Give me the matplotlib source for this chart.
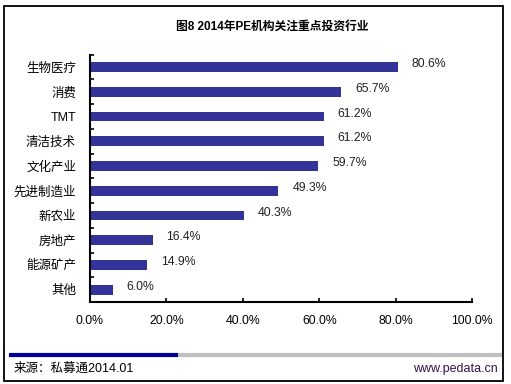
import matplotlib
matplotlib.use("Agg")
from matplotlib import pyplot as plt
from matplotlib.patches import Rectangle
from matplotlib.lines import Line2D

plt.rcParams['font.family'] = ['Liberation Sans', 'Noto Sans CJK SC', 'DejaVu Sans']

industries = ['生物医疗', '消费', 'TMT', '清洁技术', '文化产业',
              '先进制造业', '新农业', '房地产', '能源矿产', '其他']
shares = [80.6, 65.7, 61.2, 61.2, 59.7, 49.3, 40.3, 16.4, 14.9, 6.0]
xticks = [0, 20, 40, 60, 80, 100]

fig = plt.figure(figsize=(5.11, 3.84), dpi=100)
ax = fig.add_axes([0.176, 0.2135, 0.748, 0.644])

pos = list(range(len(industries)))
ax.barh(pos, shares, height=0.4, color='#333399')
for p, v in zip(pos, shares):
    ax.annotate('%.1f%%' % v, (v, p), xytext=(10, 2), textcoords='offset points',
                va='center', ha='left', fontsize=8.8, color='#222222')

ax.set_xlim(0, 100)
ax.set_ylim(len(industries) - 0.5, -0.5)
ax.set_xticks(xticks)
ax.set_xticklabels(['%.1f%%' % t for t in xticks], fontsize=8.8)
ax.set_yticks(pos)
ax.set_yticklabels(industries, fontsize=9)
ax.set_yticks([p - 0.5 for p in pos] + [len(pos) - 0.5], minor=True)
ax.tick_params(axis='y', which='major', length=0, pad=10)
ax.tick_params(axis='y', which='minor', direction='in', length=3, width=1.2)
ax.tick_params(axis='x', direction='in', length=3, width=1.2, pad=9)
for s in ['top', 'right']:
    ax.spines[s].set_visible(False)
for s in ['left', 'bottom']:
    ax.spines[s].set_linewidth(1.5)

fig.text(0.532, 0.93, '图8 2014年PE机构关注重点投资行业', ha='center', va='center',
         fontsize=8.5, fontweight='bold')

# outer frame
fig.add_artist(Rectangle((4 / 511, 1 - 381 / 384), 499 / 511, 375 / 384,
                         transform=fig.transFigure, fill=False, lw=1.3, ec='black'))
# footer bars
fig.add_artist(Line2D([9 / 511, 178 / 511], [1 - 355 / 384] * 2, transform=fig.transFigure,
                      color='#000099', lw=3, solid_capstyle='butt'))
fig.add_artist(Line2D([178 / 511, 502 / 511], [1 - 355 / 384] * 2, transform=fig.transFigure,
                      color='#bfbfbf', lw=3, solid_capstyle='butt'))
fig.text(14 / 511, 1 - 369 / 384, '来源：私募通2014.01', ha='left', va='center', fontsize=9)
fig.text(498 / 511, 1 - 369 / 384, 'www.pedata.cn', ha='right', va='center',
         fontsize=9, color='#33124d')

fig.savefig('out.png', dpi=100)
